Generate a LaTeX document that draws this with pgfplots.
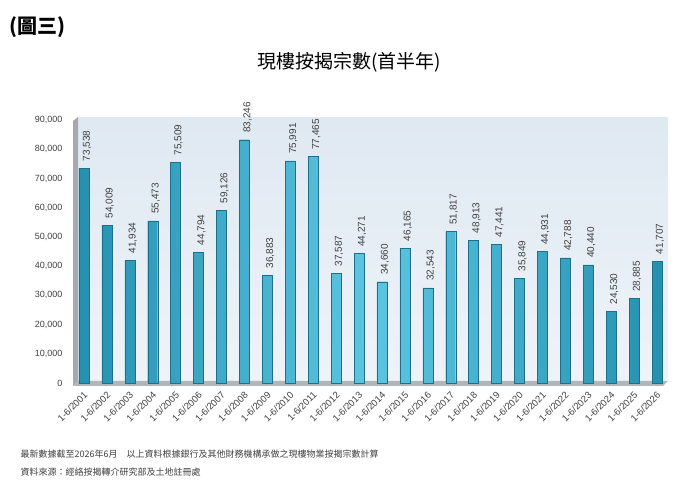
\documentclass[border=0pt]{standalone}
\usepackage{fontspec}
\setmainfont{Liberation Sans}
\newfontfamily\cjk{Noto Sans CJK TC}
\usepackage{pgfplots}
\pgfplotsset{compat=1.18}
\definecolor{barmid}{HTML}{5CC6E2}
\definecolor{baredge}{HTML}{2590B0}
\definecolor{bardraw}{HTML}{1E6F88}
\definecolor{paneltop}{HTML}{DFE9F2}
\definecolor{panelbot}{HTML}{EEF3F8}
\definecolor{wall}{HTML}{A6A9AD}
\definecolor{txt}{HTML}{404040}
\begin{document}
\begin{tikzpicture}
\useasboundingbox (0pt,0pt) rectangle (694pt,489pt);
\fill[white] (0pt,0pt) rectangle (694pt,489pt);
\node[anchor=west, font=\cjk\bfseries\fontsize{20}{23}\selectfont] at (6pt,462pt) {(圖三)};
\node[font=\cjk\fontsize{19}{22}\selectfont] at (349pt,427pt) {現樓按揭宗數(首半年)};
% panel, wall, floor
\shade[top color=paneltop, bottom color=panelbot] (78pt,108pt) rectangle (668pt,371pt);
\fill[wall] (73pt,103pt) -- (73pt,368pt) -- (78pt,372pt) -- (78pt,108pt) -- cycle;
\fill[wall!85] (73pt,103pt) -- (663pt,103pt) -- (668pt,108pt) -- (78pt,108pt) -- cycle;
\begin{axis}[
  at={(78pt,106pt)}, anchor=south west, scale only axis,
  width=590pt, height=263pt,
  xmin=-0.26, xmax=25.48, ymin=0, ymax=90000,
  axis line style={draw=none}, tick style={draw=none},
  clip=false,
  ytick={0,10000,...,90000},
  scaled y ticks=false,
  /pgf/number format/1000 sep={,},
  /pgf/number format/assume math mode=true,
  yticklabel style={font=\fontsize{9}{10}\selectfont, text=txt, xshift=-12pt},
  xtick={0,...,25},
  xticklabels={1-6/2001,1-6/2002,1-6/2003,1-6/2004,1-6/2005,1-6/2006,1-6/2007,1-6/2008,1-6/2009,1-6/2010,1-6/2011,1-6/2012,1-6/2013,1-6/2014,1-6/2015,1-6/2016,1-6/2017,1-6/2018,1-6/2019,1-6/2020,1-6/2021,1-6/2022,1-6/2023,1-6/2024,1-6/2025,1-6/2026},
  xticklabel style={rotate=45, anchor=north east, font=\fontsize{9.5}{10}\selectfont, text=txt, yshift=-4pt, xshift=-5pt, inner sep=1pt},
  nodes near coords,
  nodes near coords style={rotate=90, anchor=west, font=\fontsize{10}{11}\selectfont, text=txt, inner sep=1pt, outer sep=6pt, yshift=-3pt},
]
\addplot[ybar, bar width=10pt, draw=bardraw, left color=baredge, right color=baredge, middle color=barmid]
coordinates {
(0,73538) (1,54009) (2,41934) (3,55473) (4,75509) (5,44794) (6,59126) (7,83246) (8,36883) (9,75991)
(10,77465) (11,37587) (12,44271) (13,34660) (14,46165) (15,32543) (16,51817) (17,48913) (18,47441) (19,35849)
(20,44931) (21,42788) (22,40440) (23,24530) (24,28885) (25,41707)
};
\end{axis}
\node[anchor=west, font=\cjk\fontsize{9}{11}\selectfont, text=txt] at (17pt,35pt) {最新數據截至2026年6月\quad 以上資料根據銀行及其他財務機構承做之現樓物業按揭宗數計算};
\node[anchor=west, font=\cjk\fontsize{9}{11}\selectfont, text=txt] at (17pt,17pt) {資料來源：經絡按揭轉介研究部及土地註冊處};
\end{tikzpicture}
\end{document}
